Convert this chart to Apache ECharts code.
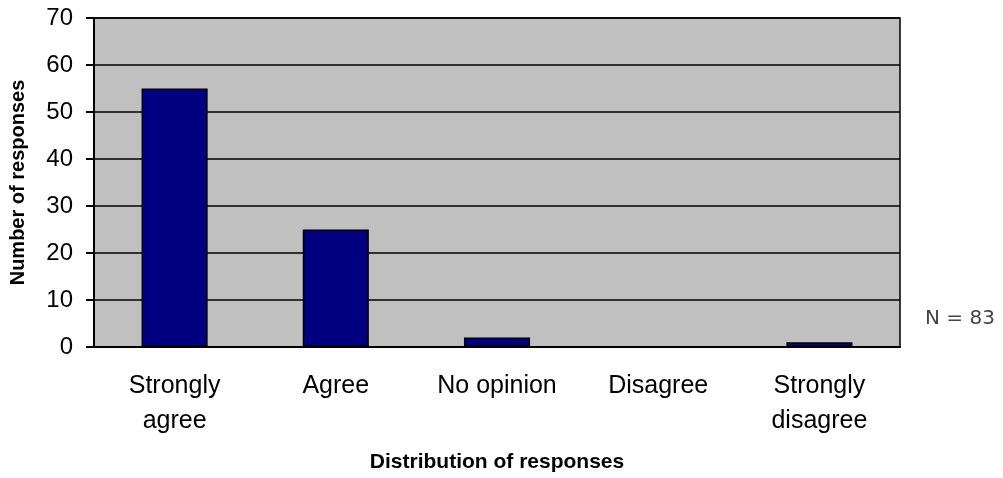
<!DOCTYPE html>
<html>
<head>
<meta charset="utf-8">
<script src="https://cdn.jsdelivr.net/npm/echarts@6/dist/echarts.min.js"></script>
<style>
  html, body { margin: 0; padding: 0; background: #fff; }
  #chart { width: 1003px; height: 478px; }
</style>
</head>
<body>
<div id="chart"></div>
<script>
const categories = ['Strongly\nagree', 'Agree', 'No opinion', 'Disagree', 'Strongly\ndisagree'];
const responses = [55, 25, 2, 0, 1];
const yTicks = [0, 10, 20, 30, 40, 50, 60, 70];
const note = 'N = 83';

const chart = echarts.init(document.getElementById('chart'));

const option = {
    animation: false,
    textStyle: {fontFamily: 'Liberation Sans, Arial, sans-serif'},
    grid: {
        left: 93,
        right: 103,
        top: 18,
        bottom: 128,
        show: true,
        backgroundColor: '#c0c0c0',
        borderColor: '#000',
        borderWidth: 1.5
    },
    xAxis: {
        type: 'category',
        data: categories,
        name: 'Distribution of responses',
        nameLocation: 'middle',
        nameGap: 105,
        nameTextStyle: {fontSize: 21, fontWeight: 'bold', color: '#000'},
        axisLine: {lineStyle: {color: '#000', width: 2}},
        axisTick: {length: 7, lineStyle: {color: '#000', width: 2}},
        axisLabel: {fontSize: 25, color: '#000', lineHeight: 35, margin: 22, interval: 0}
    },
    yAxis: {
        type: 'value',
        min: yTicks[0],
        max: yTicks[yTicks.length - 1],
        interval: 10,
        name: 'Number of responses',
        nameLocation: 'middle',
        nameGap: 66,
        nameTextStyle: {fontSize: 20, fontWeight: 'bold', color: '#000'},
        axisLine: {show: true, lineStyle: {color: '#000', width: 2}},
        axisTick: {show: true, length: 8, lineStyle: {color: '#000', width: 2}},
        axisLabel: {fontSize: 24, color: '#000', margin: 21},
        splitLine: {lineStyle: {color: '#000', width: 1.5}}
    },
    series: [{
        type: 'bar',
        data: responses,
        barWidth: '41%',
        itemStyle: {color: '#000080', borderColor: '#000', borderWidth: 1.5}
    }],
    graphic: [{
        type: 'text',
        left: 925,
        top: 309,
        style: {text: note, fontSize: 20, fill: '#444', fontFamily: 'DejaVu Sans, sans-serif'}
    }]
};

chart.setOption(option);
</script>
</body>
</html>
